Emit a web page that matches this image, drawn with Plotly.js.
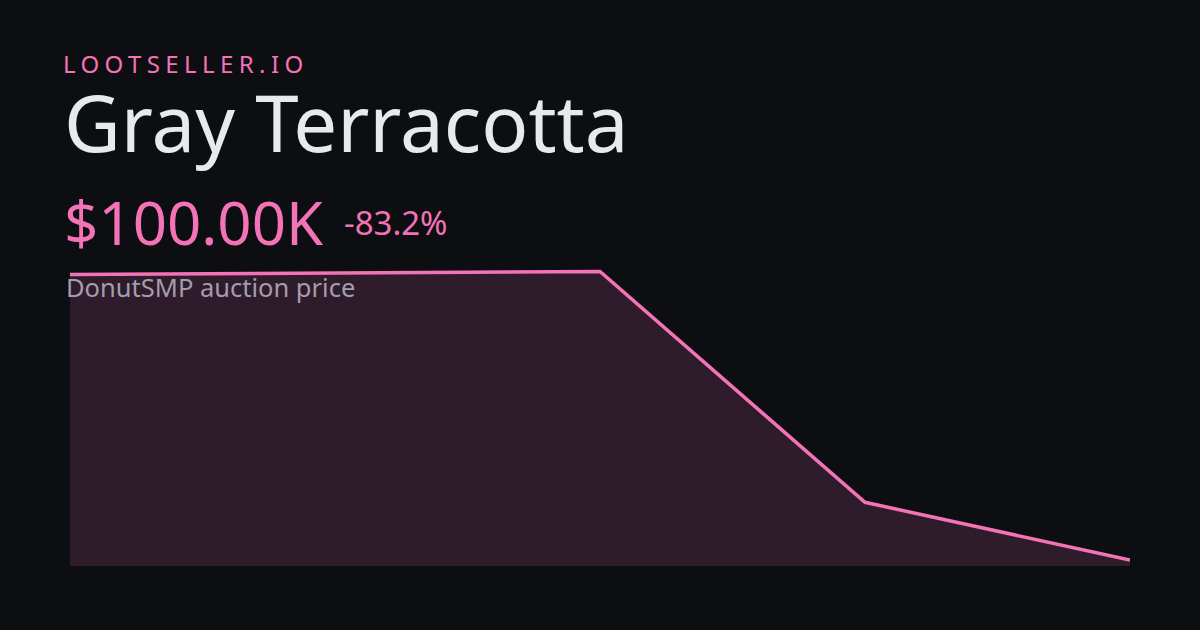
<!DOCTYPE html>
<html>
<head>
<meta charset="utf-8">
<script src="https://cdn.plot.ly/plotly-3.0.1.min.js"></script>
<style>
  html, body { margin: 0; padding: 0; background: #0d0e12; }
  #chart { width: 1200px; height: 630px; }
  .annotation[data-index="0"] text { letter-spacing: 5.4px; }
</style>
</head>
<body>
<div id="chart"></div>
<script>
// Data (price in thousands of dollars)
const days = [0, 2, 3, 4];
const prices = [595, 600, 200, 100];
const siteLabel = 'LOOTSELLER.IO';
const itemName = 'Gray Terracotta';
const priceLabel = '$100.00K';
const changeLabel = '-83.2%';
const subtitle = 'DonutSMP auction price';

const W = 1200, H = 630;
const L = 70, R = 70, T = 250, B = 64;
const pw = W - L - R, ph = H - T - B;
const px = x => (x - L) / pw;
const py = y => (H - B - y) / ph;

const font = '"Noto Sans", "Open Sans", sans-serif';
const pink = '#f472b6';

const trace = {
  x: days, y: prices, type: 'scatter', mode: 'lines',
  line: { color: pink, width: 3.5 },
  fill: 'tozeroy', fillcolor: 'rgba(244,114,182,0.15)',
  hoverinfo: 'skip'
};

const layout = {
  width: W, height: H,
  margin: { l: L, r: R, t: T, b: B, pad: 0 },
  paper_bgcolor: '#0d0e12', plot_bgcolor: 'rgba(0,0,0,0)',
  showlegend: false,
  xaxis: { range: [0, 4], visible: false, fixedrange: true },
  yaxis: { range: [89.6, 637.3], visible: false, fixedrange: true },
  annotations: [
    { text: siteLabel, xref: 'paper', yref: 'paper', x: px(96.3), y: py(63), xanchor: 'left', yanchor: 'middle',
      showarrow: false, font: { family: font, size: 24, color: pink } },
    { text: itemName, xref: 'paper', yref: 'paper', x: px(62), y: py(122), xanchor: 'left', yanchor: 'middle',
      showarrow: false, font: { family: font, size: 78, color: '#e8e9ee' } },
    { text: priceLabel, xref: 'paper', yref: 'paper', x: px(62), y: py(222), xanchor: 'left', yanchor: 'middle',
      showarrow: false, font: { family: font, size: 60, color: pink } },
    { text: changeLabel, xref: 'paper', yref: 'paper', x: px(342), y: py(222), xanchor: 'left', yanchor: 'middle',
      showarrow: false, font: { family: font, size: 33, color: pink } },
    { text: subtitle, xref: 'paper', yref: 'paper', x: px(63.5), y: py(287), xanchor: 'left', yanchor: 'middle',
      showarrow: false, font: { family: font, size: 25.5, color: '#a39db0' } }
  ]
};

Plotly.newPlot('chart', [trace], layout, { staticPlot: true, displayModeBar: false });
</script>
</body>
</html>
